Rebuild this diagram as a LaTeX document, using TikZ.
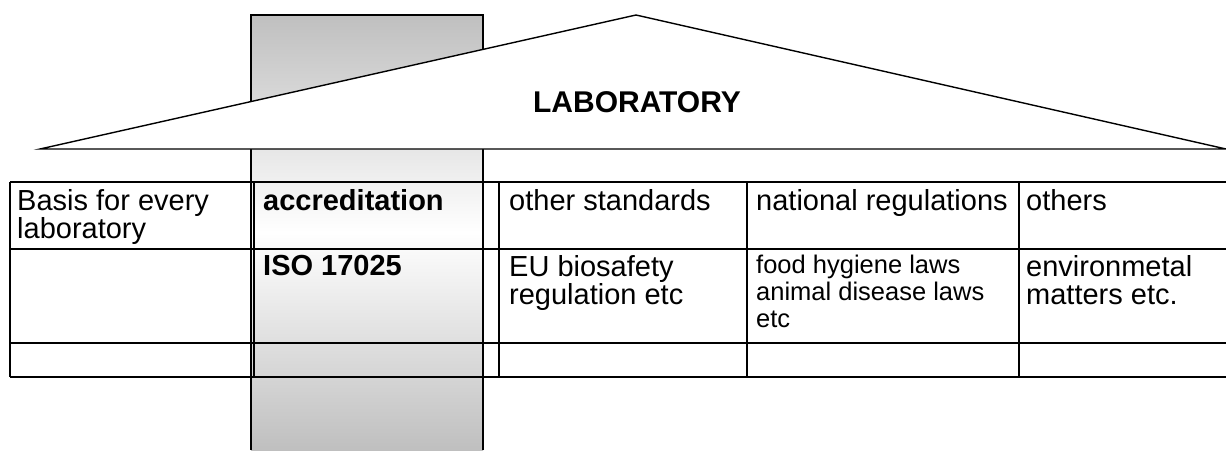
\documentclass[tikz,border=0pt]{standalone}
\usepackage{fontspec}
\setmainfont{Liberation Sans}
\usetikzlibrary{positioning}

\begin{document}
\begin{tikzpicture}[x=1pt, y=-1pt,
        rule/.style={line width=1.8pt},
        roofline/.style={line width=1.4pt},
        cell/.style={anchor=north west, inner sep=0pt, align=left, font=\fontsize{29}{28}\selectfont},
        boldcell/.style={cell, font=\fontsize{29}{28}\selectfont\bfseries},
        smallcell/.style={cell, font=\fontsize{25.5}{27}\selectfont}]
        \useasboundingbox (0,0) rectangle (1226,450);

        % pillar behind the roof
        \shade[top color=black!25, bottom color=black!25, middle color=white] (251,15) rectangle (483,450);
        \draw[roofline] (251,450) -- (251,15) -- (483,15) -- (483,450);

        % roof
        \draw[roofline, fill=white] (40,149) -- (636,15) -- (1226,149) -- cycle;
        \node[font=\fontsize{30}{30}\selectfont\bfseries] (lab) at (637,102) {LABORATORY};

        % table
        \draw[rule] (10,182) -- (1226,182);
        \draw[rule] (10,249) -- (1226,249);
        \draw[rule] (10,343) -- (1226,343);
        \draw[rule] (10,377) -- (1226,377);
        \draw[rule] (10,182) -- (10,377);
        \draw[rule] (254,182) -- (254,377);
        \draw[rule] (483,182) -- (483,377);
        \draw[rule] (499,182) -- (499,377);
        \draw[rule] (747,182) -- (747,377);
        \draw[rule] (1019,182) -- (1019,377);

        \node[cell] (basis) at (17,189) {Basis for every\\laboratory};
        \node[boldcell] (accr) at (263,189) {accreditation};
        \node[cell] (otherstd) at (509,189) {other standards};
        \node[cell] (natreg) at (756,189) {national regulations};
        \node[cell] (others) at (1026,189) {others};

        \node[boldcell] (iso) at (263,255) {ISO 17025};
        \node[cell] (eubio) at (509,255) {EU biosafety\\regulation etc};
        \node[smallcell] (food) at (756,255) {food hygiene laws\\animal disease laws\\etc};
        \node[cell] (envir) at (1026,255) {environmetal\\matters etc.};
    \end{tikzpicture}
\end{document}
